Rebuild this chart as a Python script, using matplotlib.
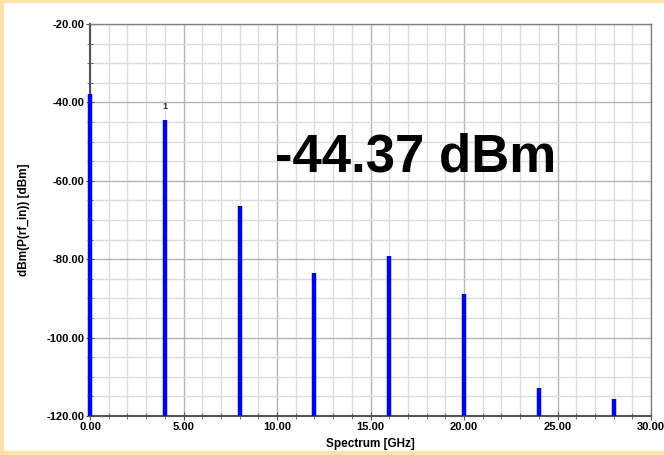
import matplotlib.pyplot as plt
from matplotlib.patches import Rectangle
from matplotlib.ticker import MultipleLocator, FormatStrFormatter

# harmonic spectrum
freq_ghz = [0.0, 4.0, 8.0, 12.0, 16.0, 20.0, 24.0, 28.0]
power_dbm = [-37.9, -44.37, -66.4, -83.5, -79.2, -88.9, -112.8, -115.6]
marker_label = "1"
readout = "-44.37 dBm"

plt.rcParams['font.family'] = ['Liberation Sans', 'DejaVu Sans']

fig = plt.figure(figsize=(6.64, 4.55), dpi=100, facecolor='#fbe3a8')
# white panel inside the yellow frame
fig.patches.append(Rectangle((4 / 664, 1 - 451 / 455), 660 / 664, 448 / 455,
                             transform=fig.transFigure, facecolor='white',
                             edgecolor='none', zorder=-1))

ax = fig.add_axes([90 / 664, 1 - 416 / 455, 561 / 664, 392 / 455])
ax.set_zorder(1)
ax.set_facecolor('white')

ax.vlines(freq_ghz, -120, power_dbm, colors='#0000ff', linewidth=3.2,
          zorder=3, clip_on=False)

# marker on the fundamental
ax.annotate(marker_label, (freq_ghz[1], power_dbm[1]), xytext=(0, 6),
            textcoords='offset points', ha='center', va='bottom',
            fontsize=6.5, fontweight='bold', color='#333333')

ax.text(0.329, 0.66, readout, transform=ax.transAxes, fontsize=38,
        fontweight='bold', ha='left', va='center', color='black')

ax.set_xlim(0, 30)
ax.set_ylim(-120, -20)
ax.xaxis.set_major_locator(MultipleLocator(5))
ax.xaxis.set_minor_locator(MultipleLocator(1))
ax.yaxis.set_major_locator(MultipleLocator(20))
ax.yaxis.set_minor_locator(MultipleLocator(5))
ax.xaxis.set_major_formatter(FormatStrFormatter('%.2f'))
ax.yaxis.set_major_formatter(FormatStrFormatter('%.2f'))

ax.grid(which='major', color='#b4b4b4', linewidth=1.0)
ax.grid(which='minor', color='#dcdcdc', linewidth=1.0)
ax.set_axisbelow(True)

ax.tick_params(which='both', direction='inout', colors='#555555',
               labelcolor='black', labelsize=8, pad=1)
ax.tick_params(which='major', length=6)
ax.tick_params(which='minor', length=4)
for lab in ax.get_xticklabels() + ax.get_yticklabels():
    lab.set_fontweight('bold')

for side in ['left', 'bottom']:
    ax.spines[side].set_color('#555555')
    ax.spines[side].set_linewidth(1.5)
for side in ['top', 'right']:
    ax.spines[side].set_color('#808080')
    ax.spines[side].set_linewidth(1.0)

ax.set_xlabel('Spectrum [GHz]', fontsize=8.5, fontweight='bold', labelpad=5)
ax.set_ylabel('dBm(P(rf_in)) [dBm]', fontsize=8.5, fontweight='bold', labelpad=12)

fig.savefig('out.png', dpi=100, facecolor=fig.get_facecolor())
